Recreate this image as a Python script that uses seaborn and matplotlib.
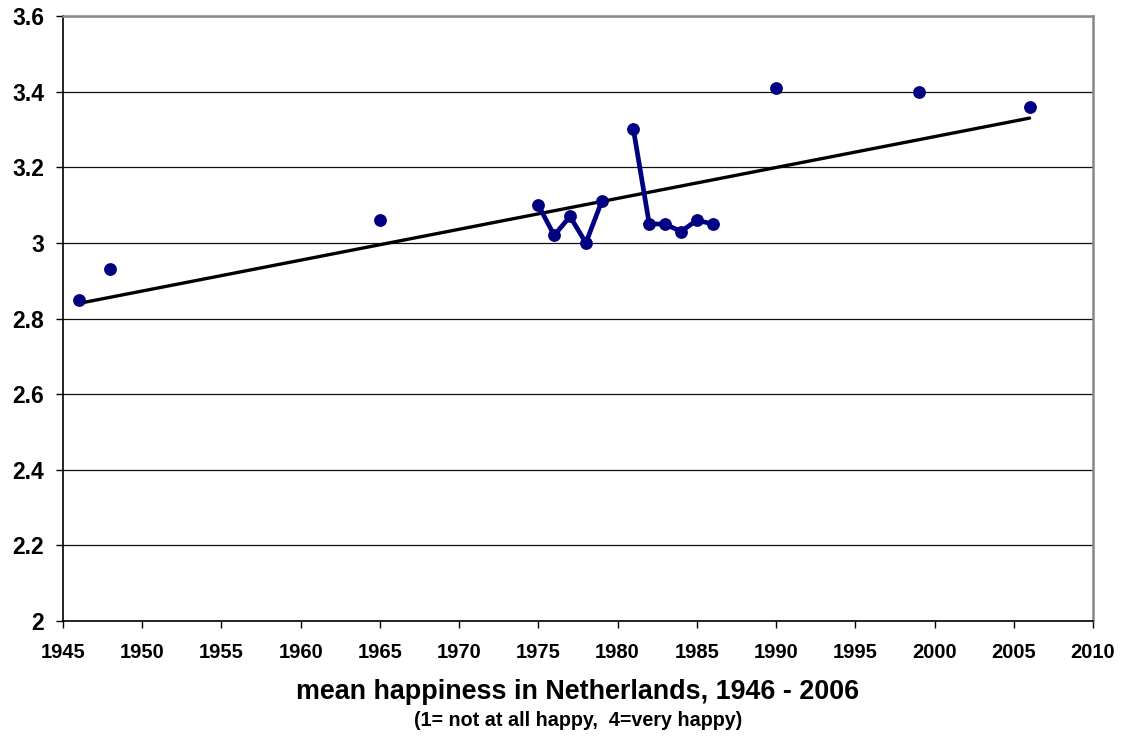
import pandas as pd
import matplotlib
matplotlib.use("Agg")
import matplotlib.pyplot as plt
import seaborn as sns

# isolated survey points
single_years = [1946, 1948, 1965, 1990, 1999, 2006]
single_values = [2.85, 2.93, 3.06, 3.41, 3.40, 3.36]

# yearly series (two runs, gap in 1980)
run1_years = [1975, 1976, 1977, 1978, 1979]
run1_values = [3.10, 3.02, 3.07, 3.00, 3.11]
run2_years = [1981, 1982, 1983, 1984, 1985, 1986]
run2_values = [3.30, 3.05, 3.05, 3.03, 3.06, 3.05]

# linear trend end points
trend_years = [1946, 2006]
trend_values = [2.84, 3.33]

navy = "#000080"

runs = pd.DataFrame({
    "year": run1_years + run2_years,
    "value": run1_values + run2_values,
    "run": ["a"] * len(run1_years) + ["b"] * len(run2_years),
})
points = pd.DataFrame({
    "year": single_years + run1_years + run2_years,
    "value": single_values + run1_values + run2_values,
})
trend = pd.DataFrame({"year": trend_years, "value": trend_values})

sns.set_style("white")
plt.rcParams["font.family"] = ["Liberation Sans", "DejaVu Sans"]
plt.rcParams["font.weight"] = "bold"
plt.rcParams["text.color"] = "black"
plt.rcParams["xtick.color"] = "black"
plt.rcParams["ytick.color"] = "black"

fig = plt.figure(figsize=(11.24, 7.38), dpi=100)
ax = fig.add_axes([0.056, 0.1585, 0.9164, 0.8198])

sns.lineplot(data=trend, x="year", y="value", color="black", linewidth=2.4, ax=ax)
sns.lineplot(data=runs, x="year", y="value", units="run", estimator=None,
             color=navy, linewidth=3.4, ax=ax)
sns.scatterplot(data=points, x="year", y="value", color=navy, s=85,
                edgecolor=navy, linewidth=0, zorder=5, ax=ax)

ax.set_xlim(1945, 2010)
ax.set_ylim(2, 3.6)
ax.set_xticks(range(1945, 2011, 5))
ax.set_yticks([2, 2.2, 2.4, 2.6, 2.8, 3, 3.2, 3.4, 3.6])
ax.set_yticklabels(["2", "2.2", "2.4", "2.6", "2.8", "3", "3.2", "3.4", "3.6"])
ax.yaxis.grid(True, color="#111111", linewidth=0.9)
ax.set_axisbelow(True)
ax.tick_params(axis="both", direction="out", length=5, width=1, color="black",
               left=True, bottom=True)
ax.tick_params(axis="x", pad=10.5, labelsize=14.5)
ax.tick_params(axis="y", pad=8.5, labelsize=16.5)
for lab in ax.get_xticklabels() + ax.get_yticklabels():
    lab.set_fontweight("bold")

for side in ["left", "bottom"]:
    ax.spines[side].set_color("black")
    ax.spines[side].set_linewidth(1.2)
for side in ["top", "right"]:
    ax.spines[side].set_visible(True)
    ax.spines[side].set_color("#888888")
    ax.spines[side].set_linewidth(1.8)

ax.set_xlabel("")
ax.set_ylabel("")

fig.text(0.514, 0.062, "mean happiness in Netherlands, 1946 - 2006",
         ha="center", va="center", fontsize=19.4, fontweight="bold")
fig.text(0.514, 0.024, "(1= not at all happy,  4=very happy)",
         ha="center", va="center", fontsize=14.2, fontweight="bold")

fig.savefig("out.png", dpi=100)
